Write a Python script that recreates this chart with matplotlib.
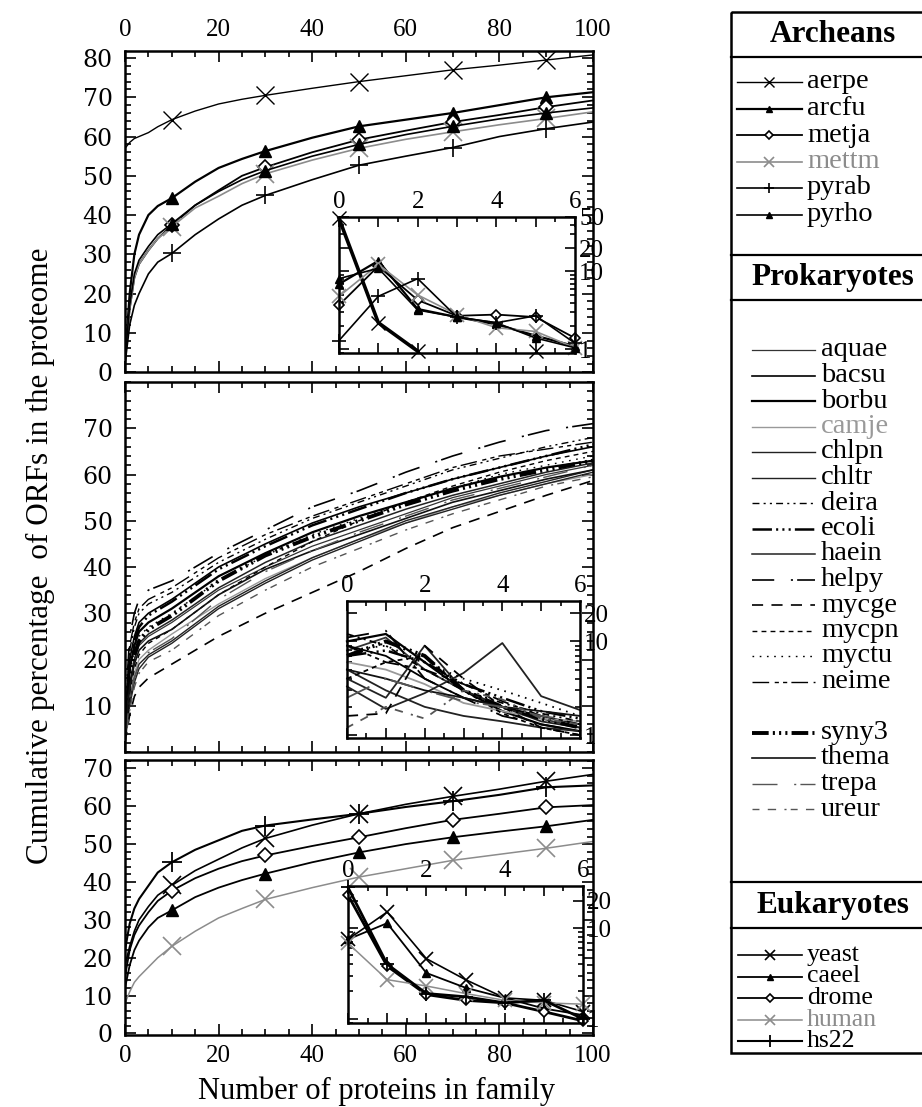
import numpy as np
import matplotlib
matplotlib.use('Agg')
import matplotlib.pyplot as plt
from matplotlib.ticker import MultipleLocator, FixedLocator, FuncFormatter, LogLocator, NullFormatter
from matplotlib.patches import Rectangle

plt.rcParams['font.family'] = ['Liberation Serif', 'DejaVu Serif']
plt.rcParams['lines.scale_dashes'] = False

# ---------------- data ----------------
# Archeans (top panel)
x_arch = [0, 1, 2, 3, 5, 7, 10, 15, 20, 25, 30, 40, 50, 60, 70, 80, 90, 100]
aerpe = [57, 58.5, 59.5, 60, 61, 62.5, 64.3, 66.5, 68.3, 69.5, 70.5, 72.3, 74, 75.5, 77, 78.2, 79.5, 80.8]
arcfu = [3, 20, 30, 35, 40, 42.3, 44.3, 48.5, 52, 54.3, 56.3, 59.7, 62.6, 64.3, 66, 68, 70, 71.3]
metja = [3, 16, 24, 27.5, 31, 34, 37.4, 42.5, 46.3, 50, 52.2, 56, 59.2, 61.5, 63.7, 65.5, 67.5, 69.2]
mettm = [3, 16, 24, 27.5, 31, 34, 37, 41.8, 44.8, 48, 50.5, 54, 57, 59.3, 61.2, 63, 64.6, 66.3]
pyrab = [2, 12, 17, 20, 25, 28, 30.2, 35, 39, 42.5, 45, 49, 52.7, 55, 57.2, 60, 62, 63.7]
pyrho = [3, 17, 25, 28.5, 32, 35, 37.8, 42.5, 46, 49, 51.3, 55, 58, 60.5, 62.6, 64.5, 66, 67.3]

# Prokaryotes (middle panel)
x_prok = [0, 1, 2, 3, 5, 10, 20, 30, 40, 50, 60, 70, 80, 90, 100]
aquae = [4, 14, 20, 23, 25, 28, 35, 40, 44.5, 48, 51.5, 55, 57.5, 60, 62]
bacsu = [6, 20, 25, 28, 30, 33, 40, 45, 49.5, 53, 56, 59, 61.5, 64, 66]
borbu = [5, 18, 23, 26, 28, 31, 38, 43, 47.5, 51, 54, 57, 59.5, 61.5, 63]
camje = [3, 12, 17, 20, 22, 25.5, 32, 37.5, 42, 46, 49.5, 53, 55.5, 58, 60]
chlpn = [3, 11, 16, 19, 21, 24, 31.5, 37, 42, 46, 50, 53, 56, 58.5, 61]
chltr = [3, 10, 15, 18, 20.5, 23.5, 31, 36.5, 41.5, 45.5, 49.5, 52.5, 55.5, 58, 60.5]
deira = [7, 22, 27, 30, 32, 34.5, 41, 46, 50.5, 54, 57.5, 61, 63.5, 66, 68]
ecoli = [6, 19, 24, 27, 29.5, 32.5, 39.5, 44.5, 49, 52.5, 56, 59, 61.5, 64, 66.5]
haein = [4, 15, 20, 23.5, 25.5, 28.5, 35.5, 41, 45.5, 49, 52.5, 55.5, 58, 60.5, 62.5]
helpy = [8, 25, 30, 33, 35, 37, 43, 48, 53, 56.5, 60.5, 64, 67, 69.5, 71]
mycge = [2, 8, 12, 14, 16, 19, 25, 30, 34.5, 39, 44, 48.5, 52, 55.5, 58.7]
mycpn = [3, 13, 18, 21, 23.5, 26.5, 34, 40, 45.5, 50, 54, 57.5, 60.5, 63, 65]
myctu = [5, 17, 22, 25, 27, 30, 37, 42.5, 47, 50.5, 54, 57, 60, 62, 64]
neime = [7, 23, 28, 31, 33, 35.5, 42, 47, 51, 54.5, 58, 61.5, 64, 65.5, 67]
syny3 = [4, 16, 21, 24, 26.5, 29.5, 37, 42.5, 46.5, 50, 53.5, 56.5, 59, 61, 63]
thema = [4, 14, 19, 22, 24, 26.5, 34, 39.5, 43.5, 47, 50.5, 54, 56.5, 59, 61]
trepa = [3, 11, 16, 19, 21.5, 24.5, 33, 39, 43.5, 47.5, 51, 54.5, 57, 59.5, 62]
ureur = [2, 9, 14, 17, 19.5, 22, 29.5, 35, 40, 44, 48, 51.5, 54.5, 57.5, 59.5]

# Eukaryotes (bottom panel)
x_euk = [0, 1, 2, 3, 5, 7, 10, 15, 20, 25, 30, 40, 50, 60, 70, 80, 90, 100]
yeast = [18, 23, 27, 30, 33.5, 36.5, 39.1, 43, 46, 49, 51.5, 55, 58, 60.5, 62.6, 64.5, 66.6, 68.4]
caeel = [12, 18, 22, 24.5, 28, 30.5, 32.5, 36, 38.5, 40.5, 42.2, 45.2, 47.8, 50, 51.8, 53.3, 54.7, 56.4]
drome = [15, 22, 26, 28.5, 32, 35, 37.7, 41, 43.5, 45.5, 47, 49.5, 51.8, 54.2, 56.4, 58, 59.7, 60.3]
human = [8, 11, 13.5, 15, 17.5, 20, 23, 27, 30.5, 33, 35.4, 38.5, 41.3, 43.5, 45.7, 47.3, 48.9, 50.7]
hs22 = [22, 29, 33, 35.5, 39, 42.5, 45.2, 48.5, 51, 53.5, 54.9, 56.5, 58, 59.8, 61.3, 63, 65, 65.5]

marked_x = [10, 30, 50, 70, 90]

# Insets (distribution, log scale)
x_inset = [0, 1, 2, 3, 4, 5, 6]
in_aerpe = [48, 2.2, 0.95, np.nan, np.nan, 0.95, np.nan]
in_arcfu = [6.9, 13.7, 3.3, 2.6, 2.1, 1.5, 1.1]
in_metja = [3.7, 11.7, 4.3, 2.7, 2.8, 2.6, 1.4]
in_mettm = [4.8, 12.3, 5.0, 2.8, 1.9, 1.7, 1.05]
in_pyrab = [1.3, 4.8, 8.1, 2.6, 2.2, 2.7, 1.2]
in_pyrho = [8.1, 11.0, 3.2, 2.6, 2.2, 1.4, 1.05]

in_aquae = [8, 11, 5, 3, 2, 1.5, 1.2]
in_bacsu = [9, 7, 4, 2.5, 2, 1.6, 1.3]
in_borbu = [10, 12, 6, 3, 1.8, 1.3, 1.1]
in_camje = [6, 5, 3.5, 2.2, 1.8, 1.5, 1.4]
in_chlpn = [3.3, 1.9, 2.8, 4.6, 9.6, 2.6, 1.85]
in_chltr = [4, 2.5, 9, 3, 2, 1.4, 1.2]
in_deira = [12, 9, 5, 3, 2.2, 1.7, 1.4]
in_ecoli = [7, 8, 6, 3.5, 2.5, 1.8, 1.5]
in_haein = [5, 3, 2, 1.6, 1.4, 1.2, 1.1]
in_helpy = [11, 13, 4, 2.5, 1.6, 1.3, 1.1]
in_mycge = [1.6, 1.7, 9, 4, 2, 1.2, 1.0]
in_mycpn = [4, 6, 7, 3, 1.7, 1.2, 1.0]
in_myctu = [8, 9, 6, 4, 3, 2.2, 1.6]
in_neime = [9, 6, 5, 3.5, 2.3, 1.6, 1.3]
in_syny3 = [7, 10, 7, 3, 2, 1.5, 1.2]
in_thema = [5, 4, 3, 2.5, 2, 1.8, 1.6]
in_trepa = [2.5, 4, 3, 2.3, 2, 1.6, 1.4]
in_ureur = [1.2, 2.0, 1.5, 3.0, 2.4, 1.5, 1.3]

in_yeast = [7.5, 15, 4.6, 2.7, 1.7, 1.6, 1.2]
in_caeel = [7.5, 11.3, 3.2, 2.2, 1.7, 1.3, 1.1]
in_drome = [23, 3.8, 1.85, 1.6, 1.5, 1.2, 0.95]
in_human = [6.8, 2.7, 2.3, 1.9, 1.6, 1.5, 1.45]
in_hs22 = [28, 4.0, 1.9, 1.75, 1.5, 1.6, 1.0]

arch_names = ['aerpe', 'arcfu', 'metja', 'mettm', 'pyrab', 'pyrho']
arch_main = [aerpe, arcfu, metja, mettm, pyrab, pyrho]
arch_in = [in_aerpe, in_arcfu, in_metja, in_mettm, in_pyrab, in_pyrho]

prok_names = ['aquae', 'bacsu', 'borbu', 'camje', 'chlpn', 'chltr', 'deira', 'ecoli', 'haein',
              'helpy', 'mycge', 'mycpn', 'myctu', 'neime', 'syny3', 'thema', 'trepa', 'ureur']
prok_main = [aquae, bacsu, borbu, camje, chlpn, chltr, deira, ecoli, haein,
             helpy, mycge, mycpn, myctu, neime, syny3, thema, trepa, ureur]
prok_in = [in_aquae, in_bacsu, in_borbu, in_camje, in_chlpn, in_chltr, in_deira, in_ecoli, in_haein,
           in_helpy, in_mycge, in_mycpn, in_myctu, in_neime, in_syny3, in_thema, in_trepa, in_ureur]

euk_names = ['yeast', 'caeel', 'drome', 'human', 'hs22']
euk_main = [yeast, caeel, drome, human, hs22]
euk_in = [in_yeast, in_caeel, in_drome, in_human, in_hs22]

# ---------------- styles ----------------
GRAY = '#8c8c8c'
arch_style = {
    'aerpe': dict(color='black', lw=1.0, marker='x', ms=13, mew=1.0),
    'arcfu': dict(color='black', lw=1.6, marker='^', ms=8, mfc='black', mec='black'),
    'metja': dict(color='black', lw=1.3, marker='D', ms=7, mfc='white', mec='black', mew=1.2),
    'mettm': dict(color=GRAY, lw=1.2, marker='x', ms=13, mew=1.2),
    'pyrab': dict(color='black', lw=1.2, marker='+', ms=13, mew=1.2),
    'pyrho': dict(color='black', lw=1.2, marker='^', ms=8, mfc='black', mec='black'),
}
prok_style = {
    'aquae': dict(color='#333333', lw=0.9),
    'bacsu': dict(color='black', lw=1.2),
    'borbu': dict(color='black', lw=1.6),
    'camje': dict(color='#999999', lw=1.0),
    'chlpn': dict(color='#222222', lw=1.0),
    'chltr': dict(color='#222222', lw=1.0),
    'deira': dict(color='black', lw=1.0, dashes=(5, 3, 1.5, 3, 1.5, 3)),
    'ecoli': dict(color='black', lw=1.8, dashes=(14, 3, 1.5, 3, 1.5, 3, 1.5, 3)),
    'haein': dict(color='#222222', lw=1.1),
    'helpy': dict(color='black', lw=1.2, dashes=(16, 12, 1.5, 3)),
    'mycge': dict(color='black', lw=1.2, dashes=(8, 6)),
    'mycpn': dict(color='black', lw=1.0, dashes=(3.5, 3)),
    'myctu': dict(color='black', lw=1.0, dashes=(1.2, 4)),
    'neime': dict(color='black', lw=1.0, dashes=(12, 4, 3, 3, 3, 3)),
    'syny3': dict(color='black', lw=2.8, dashes=(12, 3, 1.5, 3, 1.5, 3, 1.5, 3)),
    'thema': dict(color='#111111', lw=1.2),
    'trepa': dict(color='#555555', lw=1.0, dashes=(18, 12, 1.5, 3)),
    'ureur': dict(color='#555555', lw=1.0, dashes=(5, 6, 6, 6, 1.5, 3)),
}
euk_style = {
    'yeast': dict(color='black', lw=1.2, marker='x', ms=13, mew=1.2),
    'caeel': dict(color='black', lw=1.3, marker='^', ms=8, mfc='black', mec='black'),
    'drome': dict(color='black', lw=1.3, marker='D', ms=7, mfc='white', mec='black', mew=1.2),
    'human': dict(color=GRAY, lw=1.1, marker='x', ms=13, mew=1.2),
    'hs22': dict(color='black', lw=1.5, marker='+', ms=14, mew=1.3),
}

TICK_FS = 18
W, H = 922, 1107
fig = plt.figure(figsize=(W / 100, H / 100), dpi=100)


def axpx(l, t, r, b, **kw):
    return fig.add_axes([l / W, 1 - b / H, (r - l) / W, (b - t) / H], **kw)


def style_main(ax, ylim, yticks, top=False, bottom=False):
    ax.set_xlim(0, 100)
    ax.set_ylim(*ylim)
    ax.xaxis.set_major_locator(MultipleLocator(20))
    ax.xaxis.set_minor_locator(MultipleLocator(5))
    ax.yaxis.set_major_locator(FixedLocator(yticks))
    ax.yaxis.set_minor_locator(MultipleLocator(2))
    ax.tick_params(which='both', direction='in', top=True, right=True,
                   labelsize=TICK_FS, width=1.2)
    ax.tick_params(which='major', length=8)
    ax.tick_params(which='minor', length=4)
    ax.tick_params(axis='x', labeltop=top, labelbottom=bottom, pad=7)
    ax.tick_params(axis='y', labelfontfamily='DejaVu Serif', labelsize=17, pad=9)
    for s in ax.spines.values():
        s.set_linewidth(1.8)


def style_inset(ax, ylim, yt):
    ax.set_xlim(0, 6)
    ax.set_yscale('log')
    ax.set_ylim(*ylim)
    ax.xaxis.set_major_locator(MultipleLocator(1))
    ax.xaxis.set_minor_locator(MultipleLocator(0.5))
    ax.xaxis.set_major_formatter(FuncFormatter(
        lambda v, p: f'{int(round(v))}' if int(round(v)) % 2 == 0 else ''))
    ax.yaxis.set_major_locator(FixedLocator(yt))
    ax.yaxis.set_major_formatter(FuncFormatter(lambda v, p: f'{v:g}'))
    ax.yaxis.set_minor_locator(LogLocator(base=10, subs=np.arange(2, 10) * 1.0))
    ax.yaxis.set_minor_formatter(NullFormatter())
    ax.tick_params(which='both', direction='in', top=True, right=True, bottom=True, left=True,
                   labeltop=True, labelbottom=False, labelleft=False, labelright=True,
                   labelsize=TICK_FS, width=1.2, pad=3)
    ax.tick_params(which='major', length=7)
    ax.tick_params(which='minor', length=3.5)
    for s in ax.spines.values():
        s.set_linewidth(1.8)


# ---------------- main panels ----------------
ax1 = axpx(125, 51, 593, 372)
ax2 = axpx(125, 382, 593, 752)
ax3 = axpx(125, 760, 593, 1035)

mk_arch = [i for i, v in enumerate(x_arch) if v in marked_x]
mk_euk = [i for i, v in enumerate(x_euk) if v in marked_x]

for name, vals in zip(arch_names, arch_main):
    ax1.plot(x_arch, vals, markevery=mk_arch, **arch_style[name])
for name, vals in zip(prok_names, prok_main):
    ax2.plot(x_prok, vals, **prok_style[name])
for name, vals in zip(euk_names, euk_main):
    ax3.plot(x_euk, vals, markevery=mk_euk, **euk_style[name])

style_main(ax1, (0, 81.8), list(range(0, 81, 10)), top=True)
style_main(ax2, (0, 80), list(range(10, 71, 10)))
style_main(ax3, (-0.4, 72.2), list(range(0, 71, 10)), bottom=True)
ax3.set_xlabel('Number of proteins in family', fontsize=22, labelpad=8)
ax3.xaxis.set_label_coords((377 - 125) / 468, -0.15)

fig.text(40 / W, 1 - 556 / H, 'Cumulative percentage  of ORFs in the proteome',
         rotation=90, ha='center', va='center', fontsize=22.5)

# ---------------- insets ----------------
in1 = axpx(339, 217, 575, 353)
in2 = axpx(347, 601, 580, 738)
in3 = axpx(348, 886, 583, 1023)

for name, vals in zip(arch_names, arch_in):
    st = dict(arch_style[name])
    st['ms'] = st['ms'] * 0.75
    if name == 'aerpe':
        st['lw'] = 2.6
    in1.plot(x_inset, vals, clip_on=False, **st)
for name, vals in zip(prok_names, prok_in):
    st = dict(prok_style[name])
    st['lw'] = max(st['lw'], 1.3)
    in2.plot(x_inset, vals, clip_on=False, **st)
for name, vals in zip(euk_names, euk_in):
    st = dict(euk_style[name])
    st['ms'] = st['ms'] * 0.75
    if name in ('drome', 'hs22'):
        st['lw'] = 2.0
    in3.plot(x_inset, vals, clip_on=False, **st)

style_inset(in1, (0.9, 50), [1, 10, 20, 50])
style_inset(in2, (0.93, 27), [1, 10, 20])
style_inset(in3, (0.9, 29), [1, 10, 20])

# ---------------- legend panel ----------------
lg = fig.add_axes([0, 0, 1, 1])
lg.set_xlim(0, W)
lg.set_ylim(H, 0)
lg.axis('off')
lg.patch.set_visible(False)

BOX_L, BOX_R = 731, 940
lg.add_patch(Rectangle((BOX_L, 12), BOX_R - BOX_L, 1053 - 12, fill=False, lw=1.8,
                       ec='black', clip_on=False))
for yy in (57, 255, 300, 882, 928):
    lg.plot([BOX_L, BOX_R], [yy, yy], color='black', lw=1.6, clip_on=False)

HEAD_FS = 22.5
for txt, yy in (('Archeans', 35), ('Prokaryotes', 278), ('Eukaryotes', 905)):
    lg.text(833, yy, txt, ha='center', va='center', fontsize=HEAD_FS, fontweight='bold')


def legend_marker_row(style, yy, x0, x1, xm):
    st = dict(style)
    mk = st.pop('marker')
    ms = st.pop('ms')
    mfc = st.pop('mfc', st['color'])
    mec = st.pop('mec', st['color'])
    mew = st.pop('mew', 1.0)
    lg.plot([x0, x1], [yy, yy], **st)
    lg.plot([xm], [yy], marker=mk, ms=ms * 0.6, mfc=mfc, mec=mec, mew=mew, ls='none')
    return st['color']


arch_rows = [82, 108.5, 135, 161.5, 188, 214.5]
for name, yy in zip(arch_names, arch_rows):
    col = legend_marker_row(arch_style[name], yy, 737, 802, 769)
    lg.text(807, yy, name, ha='left', va='center', fontsize=20.5, color=col)

prok_rows = [350, 375.5, 401, 426.5, 452, 477.5, 503, 528.5, 554, 579.5, 605, 630.5, 656, 681.5,
             732.5, 758, 783.5, 809]
for name, yy in zip(prok_names, prok_rows):
    st = dict(prok_style[name])
    lg.plot([752, 815], [yy, yy], **st)
    lg.text(821, yy, name, ha='left', va='center', fontsize=20.5,
            color='#999999' if name == 'camje' else 'black')

euk_rows = [955, 976.5, 998, 1019.5, 1041]
for name, yy in zip(euk_names, euk_rows):
    col = legend_marker_row(euk_style[name], yy, 738, 802, 770)
    lg.text(807, yy, name, ha='left', va='center', fontsize=18.5, color=col)

fig.savefig('out.png', dpi=100)
